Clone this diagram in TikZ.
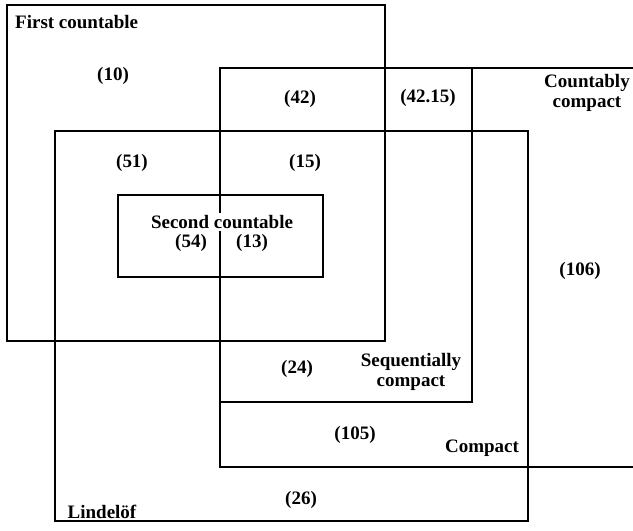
\documentclass[tikz,border=0pt]{standalone}
\usepackage{fontspec}
\setmainfont{Liberation Serif}
\begin{document}
\begin{tikzpicture}[x=1pt,y=-1pt,
  region/.style={line width=1.5pt,line join=miter},
  lbl/.style={inner sep=0pt,font=\fontsize{19}{21}\selectfont\bfseries,align=center},
]
\useasboundingbox (0,0) rectangle (633,531);
% First countable
\draw[region] (7,5) rectangle (385,341);
% Lindeloef
\draw[region] (55,131) rectangle (528,521);
% Countably compact (open to the right)
\draw[region] (633,68) -- (220,68) -- (220,467) -- (633,467);
% Sequentially compact
\draw[region] (220,68) -- (472,68) -- (472,402) -- (220,402);
% Second countable
\draw[region] (118,195) rectangle (323,277);

\node[lbl,anchor=west] (fc) at (15,22) {First countable};
\node[lbl] (n10) at (113,76) {(10)};
\node[lbl] (n42) at (300,99) {(42)};
\node[lbl] (n4215) at (428,98) {(42.15)};
\node[lbl] (cc) at (587,93) {Countably\\[-1pt]compact};
\node[lbl] (n51) at (132,163) {(51)};
\node[lbl] (n15) at (305,163) {(15)};
\node[lbl,fill=white,inner sep=2pt] (sc) at (222,222) {Second countable};
\node[lbl] (n54) at (191,243) {(54)};
\node[lbl] (n13) at (252,243) {(13)};
\node[lbl] (n106) at (580,271) {(106)};
\node[lbl] (n24) at (297,369) {(24)};
\node[lbl] (sq) at (411,372) {Sequentially\\[-1pt]compact};
\node[lbl] (n105) at (355,435) {(105)};
\node[lbl] (cp) at (482,448) {Compact};
\node[lbl] (n26) at (301,500) {(26)};
\node[lbl] (li) at (102,512) {Lindel\"of};
\end{tikzpicture}
\end{document}
